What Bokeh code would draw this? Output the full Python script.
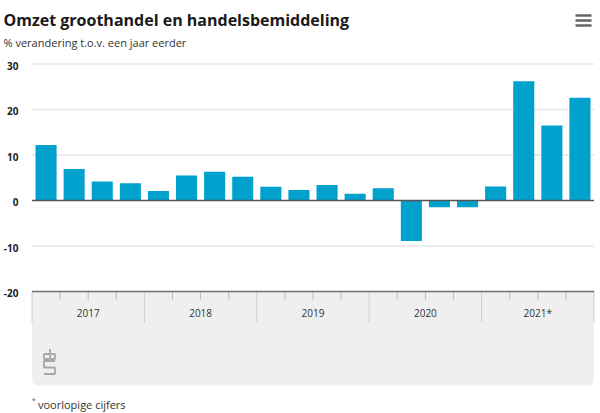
from bokeh.plotting import figure
from bokeh.models import Range1d, ColumnDataSource
from bokeh.core.properties import value
from bokeh.embed import file_html
from bokeh.resources import INLINE

# ---- data ----
years = ["2017", "2018", "2019", "2020", "2021*"]
quarters_per_year = 4
values = [12.2, 6.9, 4.2, 3.8, 2.1, 5.5, 6.3, 5.2, 3.0, 2.3,
          3.4, 1.5, 2.7, -8.9, -1.5, -1.5, 3.1, 26.2, 16.5, 22.6]
y_ticks = [-20, -10, 0, 10, 20, 30]
y_tick_labels = ["-20", "-10", "0", "10", "20", "30"]
title_text = "Omzet groothandel en handelsbemiddeling"
subtitle_text = "% verandering t.o.v. een jaar eerder"
footnote_text = "voorlopige cijfers"

FONT = "Open Sans"
BLUE = "#00a1cd"

# ---- layout (pixels) ----
W, H = 600, 413
n = len(values)
X0, X1 = 31.5, 593.5        # plot area left/right
SLOT = (X1 - X0) / n
Y_ZERO, PPU = 200.0, 4.55   # pixel of value 0, pixels per unit


def px(page_x):
    return (page_x - X0) / SLOT


def py(page_y):
    return (Y_ZERO - page_y) / PPU


p = figure(width=W, height=H, output_backend="svg", toolbar_location=None,
           x_range=Range1d(px(0), px(W)), y_range=Range1d(py(H), py(0)),
           x_axis_location=None, y_axis_location=None,
           min_border=0, min_border_left=0, min_border_right=0,
           min_border_top=0, min_border_bottom=0)
p.outline_line_color = None
p.background_fill_color = "white"
p.border_fill_color = "white"
p.xgrid.visible = False
p.ygrid.visible = False

bottom_tick = y_ticks[0]

# x-axis panel (grey box with rounded bottom corners)
p.quad(left=[0], right=[n], top=[bottom_tick], bottom=[py(385)],
       fill_color="#efefef", line_color=None, border_radius=(0, 0, 6, 6))

# horizontal grid lines
grid_ticks = [t for t in y_ticks if t not in (0, bottom_tick)]
p.segment(x0=[0] * len(grid_ticks), x1=[n] * len(grid_ticks),
          y0=grid_ticks, y1=grid_ticks, line_color="#e6e6e6", line_width=1.5)

# y tick labels
p.text(x=[px(18)] * len(y_ticks), y=y_ticks, text=y_tick_labels,
       text_font=value(FONT), text_font_size="10px", text_color="#222222",
       text_font_style="bold", text_align="right", text_baseline="middle",
       y_offset=1.5)

# bars
xs = [i + 0.5 for i in range(n)]
src = ColumnDataSource(dict(x=xs, top=values))
p.vbar(x="x", top="top", bottom=0, width=0.75, source=src,
       fill_color=BLUE, line_color=None)

# zero line
p.segment(x0=[0], x1=[n], y0=[0], y1=[0], line_color="#555555", line_width=1.6)

# year separators and quarter ticks
sep_x = [i * quarters_per_year for i in range(len(years) + 1)]
p.segment(x0=sep_x, x1=sep_x, y0=[bottom_tick] * len(sep_x),
          y1=[py(322)] * len(sep_x), line_color="#cccccc", line_width=1)
q_x = [i for i in range(n) if i % quarters_per_year != 0]
p.segment(x0=q_x, x1=q_x, y0=[bottom_tick] * len(q_x), y1=[py(299)] * len(q_x),
          line_color="#bbbbbb", line_width=1)
# axis line
p.segment(x0=[0], x1=[n], y0=[bottom_tick], y1=[bottom_tick],
          line_color="#707070", line_width=1.5)

year_x = [i * quarters_per_year + quarters_per_year / 2 for i in range(len(years))]
p.text(x=year_x, y=[py(312)] * len(years), text=years, text_font=value(FONT),
       text_font_size="10px", text_color="#333333", text_align="center",
       text_baseline="middle")

# cbs logo (simplified)
lx0, ly0 = 43.5, 348.5
logo = [
    [(5, 5), (0, 5), (0, 10), (5, 10)],
    [(6, 0), (6, 10), (11, 10), (11, 5), (6, 5)],
    [(11, 12), (0, 12), (0, 18.5), (11, 18.5), (11, 25), (0, 25)],
]
p.multi_line(xs=[[px(lx0 + a) for a, b in seg] for seg in logo],
             ys=[[py(ly0 + b) for a, b in seg] for seg in logo],
             line_color="#a8a8a8", line_width=1.8)

# hamburger menu
ham_y = [15, 20, 25]
p.segment(x0=[px(575)] * 3, x1=[px(591)] * 3, y0=[py(v) for v in ham_y],
          y1=[py(v) for v in ham_y], line_color="#666666", line_width=2.6)

# titles and footnote
p.text(x=[px(3)], y=[py(19)], text=[title_text], text_font=value(FONT),
       text_font_size="16px", text_font_style="bold", text_color="#1a1a1a",
       text_baseline="middle")
p.text(x=[px(3)], y=[py(42)], text=[subtitle_text], text_font=value(FONT),
       text_font_size="11px", text_color="#333333", text_baseline="middle")
p.text(x=[px(31)], y=[py(399)], text=["*"], text_font=value(FONT),
       text_font_size="8px", text_color="#777777", text_baseline="middle")
p.text(x=[px(37.5)], y=[py(404)], text=[footnote_text], text_font=value(FONT),
       text_font_size="11px", text_color="#333333", text_baseline="middle")

open("out.html", "w").write(file_html(p, INLINE))
